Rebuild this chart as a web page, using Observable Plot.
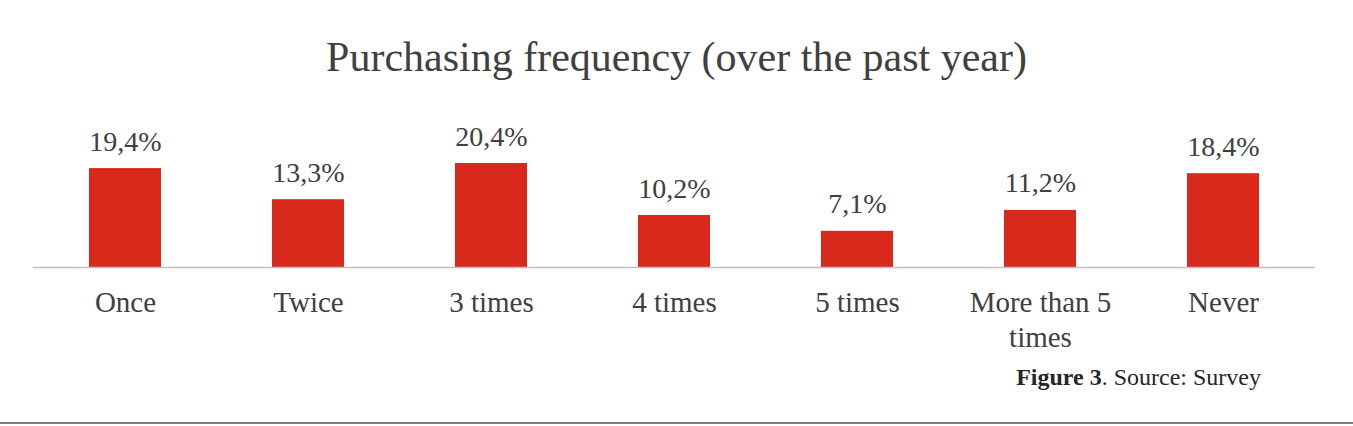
<!DOCTYPE html>
<html>
<head>
<meta charset="utf-8">
<script src="https://cdn.jsdelivr.net/npm/d3@7"></script>
<script src="https://cdn.jsdelivr.net/npm/@observablehq/plot@0.6"></script>
<style>
  html, body { margin: 0; padding: 0; background: #fff; width: 1353px; height: 426px; overflow: hidden; position: relative; font-family: "Liberation Serif", "DejaVu Serif", serif; }
  #title { position: absolute; left: 0; top: 32px; width: 1353px; text-align: center; font-size: 42px; color: #404040; line-height: 50px; white-space: nowrap; }
  #chart { position: absolute; left: 0; top: 100px; }
  #caption { position: absolute; right: 92px; top: 363px; font-size: 24px; line-height: 28px; color: #262626; white-space: nowrap; }
  #rule { position: absolute; left: 0; top: 422px; width: 1353px; height: 2px; background: #808080; }
</style>
</head>
<body>
<div id="title">Purchasing frequency (over the past year)</div>
<div id="chart"></div>
<div id="caption"><b>Figure 3</b>. Source: Survey</div>
<div id="rule"></div>
<script>
const categories = ["Once", "Twice", "3 times", "4 times", "5 times", "More than 5\ntimes", "Never"];
const values = [19.4, 13.3, 20.4, 10.2, 7.1, 11.2, 18.4];

const data = categories.map((c, i) => ({category: c, value: values[i]}));
const fmt = v => v.toFixed(1).replace(".", ",") + "%";

const chart = Plot.plot({
  width: 1353,
  height: 260,
  marginTop: 63,
  marginBottom: 93,
  marginLeft: 33,
  marginRight: 38,
  style: {fontFamily: "Liberation Serif, serif", background: "transparent", overflow: "visible"},
  x: {domain: categories, paddingInner: 0.605, paddingOuter: 0.3, axis: null},
  y: {domain: [0, 20.4], axis: null},
  marks: [
    Plot.barY(data, {x: "category", y: "value", fill: "#d9291c"}),
    Plot.ruleY([0], {stroke: "#bfbfbf", strokeWidth: 1.5}),
    Plot.text(data, {x: "category", y: "value", text: d => fmt(d.value), lineAnchor: "bottom", dy: -18, fontSize: 28, fill: "#404040"}),
    Plot.text(data, {x: "category", y: 0, text: "category", lineAnchor: "top", dy: 20, fontSize: 29, lineHeight: 1.2, fill: "#404040"})
  ]
});
document.getElementById("chart").appendChild(chart);
</script>
</body>
</html>
